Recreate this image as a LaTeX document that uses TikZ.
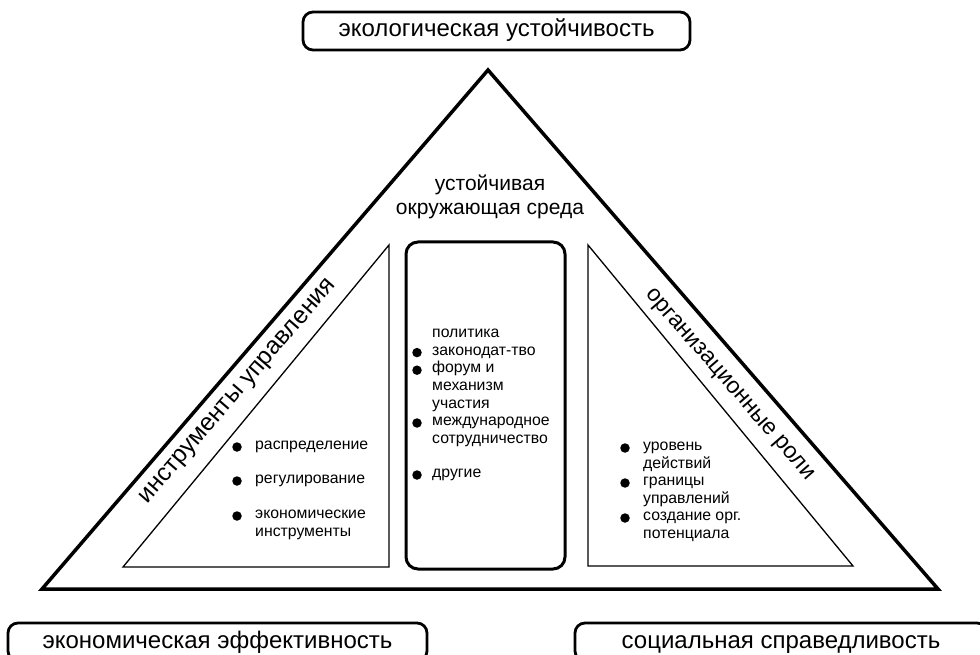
\documentclass[tikz,border=0pt]{standalone}
\usepackage{fontspec}
\setmainfont{Liberation Sans}

\tikzset{
    bigtext/.style = {font=\fontsize{21}{24}\selectfont},
    itemtext/.style = {font=\fontsize{15.8}{17.6}\selectfont, anchor=mid west, inner sep=0pt},
    bullet/.style = {circle, fill=black, inner sep=0pt, minimum size=9.5pt},
    goalbox/.style = {draw=black, line width=2.8pt, rounded corners=10pt,
        inner sep=0pt, minimum height=38pt, text height=17pt, text depth=5pt,
        font=\fontsize{24}{26}\selectfont},
}

\begin{document}
\begin{tikzpicture}[x=1pt, y=-1pt]
    \useasboundingbox (0,0) rectangle (980,655);

    % triangle corners
    \coordinate (apex) at (488,70);
    \coordinate (bl) at (42,589);
    \coordinate (br) at (938,589);

    \coordinate (lt) at (389,245);
    \coordinate (lb) at (389,567);
    \coordinate (ll) at (123,567);

    \coordinate (rt) at (588,245);
    \coordinate (rb) at (588,566);
    \coordinate (rr) at (853,566);

    \draw[line width=3.5pt] (apex) -- (bl) -- (br) -- cycle;
    \draw[line width=1.3pt] (lt) -- (lb) -- (ll) -- cycle;
    \draw[line width=1.3pt] (rt) -- (rb) -- (rr) -- cycle;

    \node[draw = black,
    line width = 3pt,
    rounded corners = 12pt,
    minimum width = 159pt,
    minimum height = 327pt] (mid) at (485.5,405.5) {};

    % the three goals
    \node[goalbox, minimum width = 387pt] (eco) at (496.5,31) {экологическая устойчивость};
    \node[goalbox, minimum width = 419pt] (econ) at (217.5,642) {экономическая эффективность};
    \node[goalbox, minimum width = 412pt] (soc) at (781,642) {социальная справедливость};

    \node[bigtext, align=center] (env) at (490,197) {устойчивая\\окружающая среда};

    \node[font=\fontsize{24.5}{26}\selectfont, rotate=49.2, anchor=mid] (tools) at (240,393) {инструменты управления};
    \node[font=\fontsize{23}{26}\selectfont, rotate=-49, anchor=mid] (roles) at (728,386) {организационные роли};

    % left list
    \node[itemtext] (l1) at (255,447) {распределение};
    \node[itemtext] (l2) at (255,481) {регулирование};
    \node[itemtext] (l3) at (255,516) {экономические};
    \node[itemtext] (l4) at (255,533.5) {инструменты};

    \node[bullet] (lb1) at (237,447) {};
    \node[bullet] (lb2) at (237,481) {};
    \node[bullet] (lb3) at (237,516) {};

    % middle list
    \node[itemtext] (m1) at (432,335) {политика};
    \node[itemtext] (m2) at (432,352.6) {законодат-тво};
    \node[itemtext] (m3) at (432,370.2) {форум и};
    \node[itemtext] (m4) at (432,387.8) {механизм};
    \node[itemtext] (m5) at (432,405.4) {участия};
    \node[itemtext] (m6) at (432,423) {международное};
    \node[itemtext] (m7) at (432,440.6) {сотрудничество};
    \node[itemtext] (m8) at (432,475) {другие};

    \node[bullet] (mb1) at (417,352.6) {};
    \node[bullet] (mb2) at (417,370.2) {};
    \node[bullet] (mb3) at (417,423) {};
    \node[bullet] (mb4) at (417,475) {};

    % right list
    \node[itemtext] (r1) at (643,448) {уровень};
    \node[itemtext] (r2) at (643,465.5) {действий};
    \node[itemtext] (r3) at (643,483) {границы};
    \node[itemtext] (r4) at (643,500.5) {управлений};
    \node[itemtext] (r5) at (643,518) {создание орг.};
    \node[itemtext] (r6) at (643,535.5) {потенциала};

    \node[bullet] (rb1) at (625,448) {};
    \node[bullet] (rb2) at (625,483) {};
    \node[bullet] (rb3) at (625,518) {};
\end{tikzpicture}
\end{document}
